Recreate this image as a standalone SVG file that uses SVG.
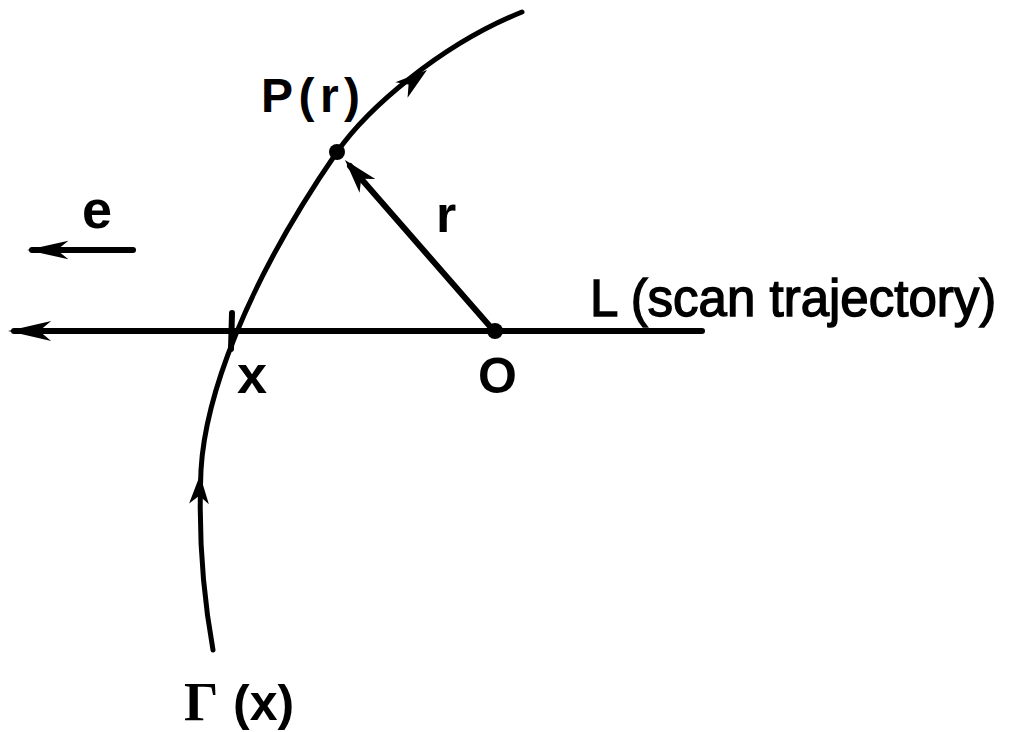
<svg xmlns="http://www.w3.org/2000/svg" width="1023" height="732" viewBox="0 0 1023 732">
<style>
.ln{stroke:#000;fill:none;stroke-linecap:round}
.lbl{font-family:"Liberation Sans",Arial,sans-serif;font-weight:bold;fill:#000}
.lblr{font-family:"Liberation Sans",Arial,sans-serif;fill:#000;stroke:#000;stroke-width:1.4}
.ser{font-family:"Liberation Serif","Times New Roman",serif;font-weight:bold;fill:#000}
.dot{fill:#000}
</style>
<defs>
<path id="ah" d="M0,0 L-36,-11 L-26,0 L-36,11 Z" fill="#000"/>
</defs>
<rect width="1023" height="732" fill="#fff"/>
<g id="connectors">
<line class="ln" x1="702" y1="331" x2="14" y2="331" stroke-width="6"/>
<use href="#ah" transform="translate(8,331) rotate(180) scale(1.2,0.9)"/>
<line class="ln" x1="133" y1="250" x2="32" y2="250" stroke-width="6"/>
<use href="#ah" transform="translate(27,250) rotate(180) scale(1.15,0.85)"/>
<path class="ln" d="M213,650 C204,600 198,540 201,470 C205,400 243,288 337,152 C367,109 440,45 522,12" stroke-width="5"/>
<use href="#ah" transform="translate(200,475) rotate(-88) scale(0.8,0.9)"/>
<use href="#ah" transform="translate(427,70) rotate(-38) scale(0.9,0.9)"/>
<line class="ln" x1="232" y1="313" x2="231" y2="349" stroke-width="6"/>
<line class="ln" x1="494" y1="331" x2="350" y2="166" stroke-width="6"/>
<use href="#ah" transform="translate(345,160) rotate(-131) scale(0.95,0.95)"/>
</g>
<g id="node-P">
<circle class="dot" cx="337" cy="152" r="8"/>
<text class="lbl" x="261" y="112" font-size="48" textLength="99" lengthAdjust="spacing">P(r)</text>
</g>
<g id="node-O">
<circle class="dot" cx="495" cy="331" r="8"/>
<text class="lbl" x="478" y="393" font-size="50">O</text>
</g>
<g id="node-x">
<text class="lbl" x="237" y="393" font-size="54">x</text>
</g>
<g id="label-r">
<text class="lbl" x="436" y="232" font-size="52">r</text>
</g>
<g id="label-e">
<text class="lbl" x="82" y="228" font-size="54">e</text>
</g>
<g id="label-L">
<text class="lblr" x="590" y="316" font-size="51">L (scan trajectory)</text>
</g>
<g id="label-Gamma">
<text class="ser" x="184" y="720" font-size="54">Γ</text>
<text class="lbl" x="233" y="720" font-size="50">(x)</text>
</g>
</svg>
